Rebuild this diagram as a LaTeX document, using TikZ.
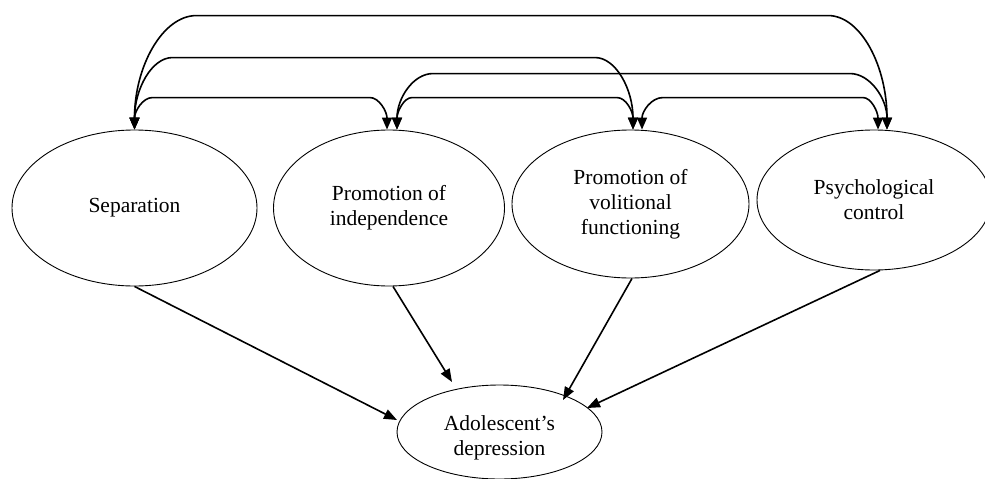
\documentclass[tikz,border=0pt]{standalone}
\usepackage{fontspec}
\setmainfont{Liberation Serif}
\usetikzlibrary{arrows.meta,calc,shapes.geometric}
\begin{document}
\begin{tikzpicture}[x=1pt,y=-1pt,
  latent/.style={ellipse,draw,line width=0.9pt,inner sep=0pt,align=center,
    font=\fontsize{21.5}{25}\selectfont},
  bi/.style={line width=1.6pt,{Triangle[length=12pt,width=10pt]}-{Triangle[length=12pt,width=10pt]}},
  uni/.style={line width=1.6pt,-{Triangle[length=13pt,width=10pt]}}]
\useasboundingbox (0,0) rectangle (985,479);
\node[latent,minimum width=245pt,minimum height=156pt] (sep) at (134.5,208) {Separation};
\node[latent,minimum width=231pt,minimum height=156pt] (ind) at (389,208) {Promotion of\\independence};
\node[latent,minimum width=237pt,minimum height=148pt] (vol) at (630.5,204) {Promotion of\\volitional\\functioning};
\node[latent,minimum width=234pt,minimum height=140pt] (ps) at (874,200) {Psychological\\control};
\node[latent,minimum width=205pt,minimum height=94pt] (dep) at (499.5,432) {\rule{0pt}{27pt}Adolescent’s\\depression};
% tip coordinates
\coordinate (sepT) at (sep.north);
\coordinate (indL) at ($(ind.north)+(-2,0)$);
\coordinate (indR) at ($(ind.north)+(8,0)$);
\coordinate (volL) at ($(vol.north)+(2.5,0)$);
\coordinate (volR) at ($(vol.north)+(11.5,0)$);
\coordinate (psL) at ($(ps.north)+(4,0)$);
\coordinate (psR) at ($(ps.north)+(13,0)$);
% horizontal run ends
\coordinate (a1L) at ($(sepT)+(62,-114)$);
\coordinate (a1R) at ($(psR)+(-59,-114)$);
\coordinate (a2L) at ($(sepT)+(38,-72)$);
\coordinate (a2R) at ($(volL)+(-38,-72)$);
\coordinate (a3L) at ($(indR)+(36,-56)$);
\coordinate (a3R) at ($(psR)+(-37,-56)$);
\coordinate (a4L) at ($(sepT)+(18,-32)$);
\coordinate (a4R) at ($(indL)+(-17,-32)$);
\coordinate (a5L) at ($(indR)+(15,-32)$);
\coordinate (a5R) at ($(volL)+(-16,-32)$);
\coordinate (a6L) at ($(volR)+(21,-32)$);
\coordinate (a6R) at ($(psL)+(-15,-32)$);
% correlations
\draw[bi] (sepT) .. controls +(0,-63) and +(-34,0) .. (a1L) -- (a1R) .. controls +(33,0) and +(0,-63) .. (psR);
\draw[bi] (sepT) .. controls +(0,-40) and +(-21,0) .. (a2L) -- (a2R) .. controls +(21,0) and +(0,-40) .. (volL);
\draw[bi] (indR) .. controls +(0,-31) and +(-20,0) .. (a3L) -- (a3R) .. controls +(20,0) and +(0,-31) .. (psR);
\draw[bi] (sepT) .. controls +(0,-18) and +(-10,0) .. (a4L) -- (a4R) .. controls +(9,0) and +(0,-18) .. (indL);
\draw[bi] (indR) .. controls +(0,-18) and +(-8,0) .. (a5L) -- (a5R) .. controls +(9,0) and +(0,-18) .. (volL);
\draw[bi] (volR) .. controls +(0,-18) and +(-12,0) .. (a6L) -- (a6R) .. controls +(8,0) and +(0,-18) .. (psL);
% paths to depression
\coordinate (dA) at ($(dep.center)+(-102.5,-12)$);
\coordinate (dB) at ($(dep.center)+(-47.5,-50)$);
\coordinate (dC) at ($(dep.center)+(63.5,-32)$);
\coordinate (dD) at ($(dep.center)+(87.5,-24)$);
\draw[uni] (sep.south) -- (dA);
\draw[uni] ($(ind.south)+(4,0)$) -- (dB);
\draw[uni] ($(vol.south)+(1.5,0)$) -- (dC);
\draw[uni] ($(ps.south)+(6,0)$) -- (dD);
\end{tikzpicture}
\end{document}
